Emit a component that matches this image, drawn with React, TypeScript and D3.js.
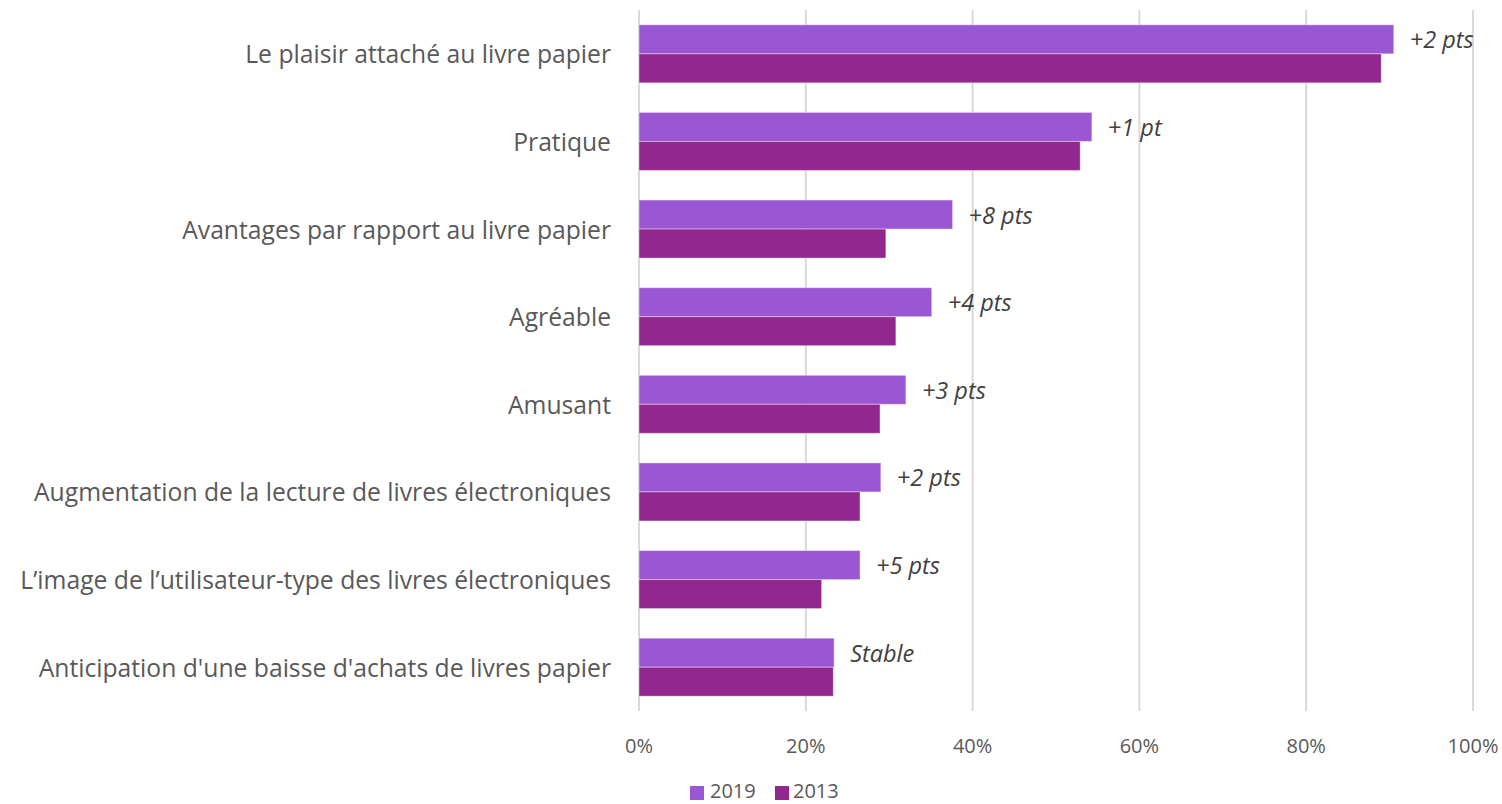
import React from "react";
import * as d3 from "d3";

const categories = [
  "Le plaisir attaché au livre papier",
  "Pratique",
  "Avantages par rapport au livre papier",
  "Agréable",
  "Amusant",
  "Augmentation de la lecture de livres électroniques",
  "L’image de l’utilisateur-type des livres électroniques",
  "Anticipation d'une baisse d'achats de livres papier",
];
const values2019 = [0.905, 0.543, 0.376, 0.351, 0.32, 0.29, 0.265, 0.234];
const values2013 = [0.89, 0.529, 0.296, 0.308, 0.289, 0.265, 0.219, 0.233];
const annotations = ["+2 pts", "+1 pt", "+8 pts", "+4 pts", "+3 pts", "+2 pts", "+5 pts", "Stable"];
const xTicks = [0, 0.2, 0.4, 0.6, 0.8, 1.0];
const seriesNames = ["2019", "2013"];
const colors = ["#9B57D3", "#92278F"];

const W = 1502;
const H = 804;
const FONT = "'Open Sans', 'Noto Sans', sans-serif";

export default function App() {
  const x = d3.scaleLinear().domain([0, 1]).range([639, 1473]);
  const y = d3
    .scaleBand<string>()
    .domain(categories)
    .range([10, 711])
    .paddingInner(0.338)
    .paddingOuter(0.169);
  const sub = d3
    .scaleBand<string>()
    .domain(seriesNames)
    .range([0, y.bandwidth()]);
  const fmt = d3.format(".0%");

  return (
    <svg
      width={W}
      height={H}
      style={{ position: "absolute", left: 0, top: 0, background: "#fff" }}
    >
      {xTicks.map((t) => (
        <line key={t} x1={x(t)} x2={x(t)} y1={10} y2={711} stroke="#d9d9d9" strokeWidth={2} />
      ))}
      {categories.map((c, i) => {
        const y0 = y(c)!;
        const vals = [values2019[i], values2013[i]];
        return (
          <g key={c}>
            {vals.map((v, j) => (
              <rect
                key={j}
                x={x(0)}
                y={y0 + sub(seriesNames[j])!}
                width={x(v) - x(0)}
                height={sub.bandwidth()}
                fill={colors[j]}
                stroke="#ffffff"
                strokeOpacity={0.4}
                strokeWidth={1}
              />
            ))}
            <text
              x={x(values2019[i]) + 16}
              y={y0 + sub("2019")! + sub.bandwidth() / 2}
              dominantBaseline="central"
              fontFamily={FONT}
              fontStyle="italic"
              fontSize={23.5}
              fill="#404040"
            >
              {annotations[i]}
            </text>
            <text
              x={611}
              y={y0 + y.bandwidth() / 2}
              dominantBaseline="central"
              textAnchor="end"
              fontFamily={FONT}
              fontSize={24.7}
              fill="#595959"
            >
              {c}
            </text>
          </g>
        );
      })}
      {xTicks.map((t) => (
        <text
          key={t}
          x={x(t)}
          y={745}
          textAnchor="middle"
          dominantBaseline="central"
          fontFamily={FONT}
          fontSize={20}
          fill="#595959"
        >
          {fmt(t)}
        </text>
      ))}
      <g>
        <rect x={690} y={786} width={14} height={14} fill={colors[0]} />
        <text x={710} y={790} dominantBaseline="central" fontFamily={FONT} fontSize={20} fill="#595959">
          {seriesNames[0]}
        </text>
        <rect x={775} y={786} width={14} height={14} fill={colors[1]} />
        <text x={793} y={790} dominantBaseline="central" fontFamily={FONT} fontSize={20} fill="#595959">
          {seriesNames[1]}
        </text>
      </g>
    </svg>
  );
}
